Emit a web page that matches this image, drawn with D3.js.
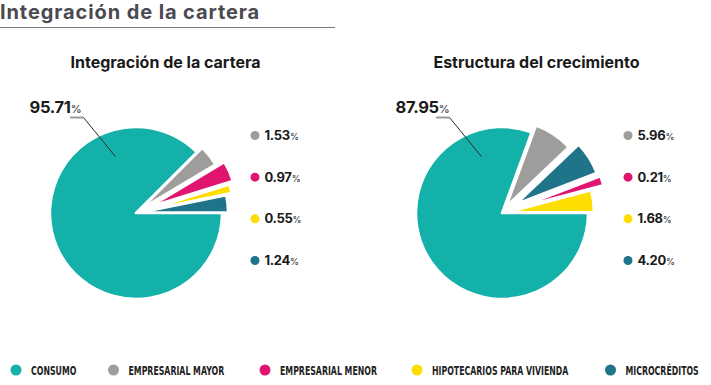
<!DOCTYPE html>
<html>
<head>
<meta charset="utf-8">
<script src="https://cdn.jsdelivr.net/npm/d3@7"></script>
<style>
    body { margin: 0; background: #fff; }
    svg { display: block; font-family: Inter, "Open Sans", sans-serif; }
</style>
</head>
<body>
<div id="chart"></div>
<script>
// categories (legend order)
const categories = ["CONSUMO", "EMPRESARIAL MAYOR", "EMPRESARIAL MENOR", "HIPOTECARIOS PARA VIVIENDA", "MICROCRÉDITOS"];
const colors = ["#14b1aa", "#9d9d9c", "#e0156f", "#ffdd00", "#1f748a"];

// labelled percentages
const carteraValues = [95.71, 1.53, 0.97, 0.55, 1.24];
const crecimientoValues = [87.95, 5.96, 0.21, 1.68, 4.20];

// slice sizes as they are drawn in the picture (the small ones are enlarged there)
const carteraDrawn = [87.5, 3.9, 3.8, 1.6, 3.2];
const crecimientoDrawn = [80.6, 7.3, 1.75, 4.1, 6.25];

// order of the slices round each pie, clockwise from 3 o'clock
const carteraOrder = [0, 1, 2, 3, 4];
const crecimientoOrder = [0, 1, 4, 2, 3];

const charts = [
    { title: "Integración de la cartera", values: carteraValues, drawn: carteraDrawn, order: carteraOrder,
      cx: 136, cy: 213, titleX: 165.5, legendX: 255, pull: [0, 7, 16, 11.5, 6] },
    { title: "Estructura del crecimiento", values: crecimientoValues, drawn: crecimientoDrawn, order: crecimientoOrder,
      cx: 502, cy: 213, titleX: 536.5, legendX: 628, pull: [0, 8, 19, 6, 17] }
];

const width = 711, height = 385, radius = 86;

const svg = d3.select("#chart").append("svg")
    .attr("width", width)
    .attr("height", height);

// page heading
svg.append("text")
    .attr("x", 0)
    .attr("y", 18.5)
    .style("font-size", "20px")
    .style("font-weight", 700)
    .style("letter-spacing", "0.9px")
    .style("fill", "#4a4a50")
    .text("Integración de la cartera");

svg.append("line")
    .attr("x1", 0).attr("x2", 335)
    .attr("y1", 27.5).attr("y2", 27.5)
    .style("stroke", "#7a7a7a")
    .style("stroke-width", 1);

const arc = d3.arc().innerRadius(0).outerRadius(radius);

charts.forEach(c => {
    const g = svg.append("g").attr("transform", `translate(${c.cx},${c.cy})`);

    svg.append("text")
        .attr("x", c.titleX)
        .attr("y", 67.5)
        .style("text-anchor", "middle")
        .style("font-size", "16px")
        .style("font-weight", 700)
        .style("fill", "#1a1a1a")
        .text(c.title);

    const pie = d3.pie()
        .sort(null)
        .value(i => c.drawn[i])
        .startAngle(Math.PI / 2)
        .endAngle(Math.PI / 2 + 2 * Math.PI);

    const slices = pie(c.order);

    g.selectAll(".slice")
        .data(slices)
        .enter().append("path")
        .attr("class", "slice")
        .attr("transform", d => {
            const p = d3.pointRadial((d.startAngle + d.endAngle) / 2, c.pull[d.data]);
            return `translate(${p[0]},${p[1]})`;
        })
        .attr("d", arc)
        .style("fill", d => colors[d.data])
        .style("stroke", "#fff")
        .style("stroke-width", 2.5)
        .style("stroke-linejoin", "round");

    // leader for the big slice
    const tip = d3.pointRadial(-20 * Math.PI / 180, 60);
    g.append("line")
        .attr("x1", -66).attr("x2", -52.5)
        .attr("y1", -95.5).attr("y2", -95.5)
        .style("stroke", "#9a9a9a")
        .style("stroke-width", 2);
    g.append("line")
        .attr("x1", -52.5).attr("y1", -95.5)
        .attr("x2", tip[0]).attr("y2", tip[1])
        .style("stroke", "#2a2a2a")
        .style("stroke-width", 1);

    const big = g.append("text")
        .attr("x", -106.5)
        .attr("y", -100.5)
        .style("fill", "#1a1a1a");
    big.append("tspan")
        .style("font-size", "16.5px")
        .style("font-weight", 700)
        .style("letter-spacing", "-0.3px")
        .text(c.values[0].toFixed(2));
    big.append("tspan")
        .style("font-size", "11px")
        .style("font-weight", 500)
        .style("fill", "#444")
        .text("%");

    // values of the small slices
    const rows = categories.slice(1).map((name, k) => k + 1);
    const rowY = d3.scalePoint().domain(rows).range([135.5, 260.5]);

    const row = svg.append("g").selectAll("g")
        .data(rows)
        .enter().append("g")
        .attr("transform", i => `translate(${c.legendX},${rowY(i)})`);

    row.append("circle")
        .attr("r", 4.5)
        .style("fill", i => colors[i]);

    const t = row.append("text")
        .attr("x", 9.5)
        .attr("y", 4.6)
        .style("fill", "#1a1a1a");
    t.append("tspan")
        .style("font-size", "13px")
        .style("font-weight", 700)
        .style("letter-spacing", "-0.3px")
        .text(i => c.values[i].toFixed(2));
    t.append("tspan")
        .style("font-size", "9px")
        .style("font-weight", 500)
        .style("fill", "#444")
        .text("%");
});

// bottom legend
const legendX = [16, 113.5, 265, 417, 610.5];
const leg = svg.append("g").selectAll("g")
    .data(categories)
    .enter().append("g")
    .attr("transform", (d, i) => `translate(${legendX[i]},370)`);

leg.append("circle")
    .attr("r", 5.5)
    .style("fill", (d, i) => colors[i]);

// squeezed to the narrow poster face of the original
leg.append("text")
    .attr("transform", "translate(15,4.8) scale(0.67,1)")
    .style("font-family", "'Liberation Sans Narrow', 'DejaVu Sans Condensed', 'DejaVu Sans', sans-serif")
    .style("font-stretch", "condensed")
    .style("font-size", "13px")
    .style("font-weight", 700)
    .style("fill", "#222")
    .text(d => d);
</script>
</body>
</html>
